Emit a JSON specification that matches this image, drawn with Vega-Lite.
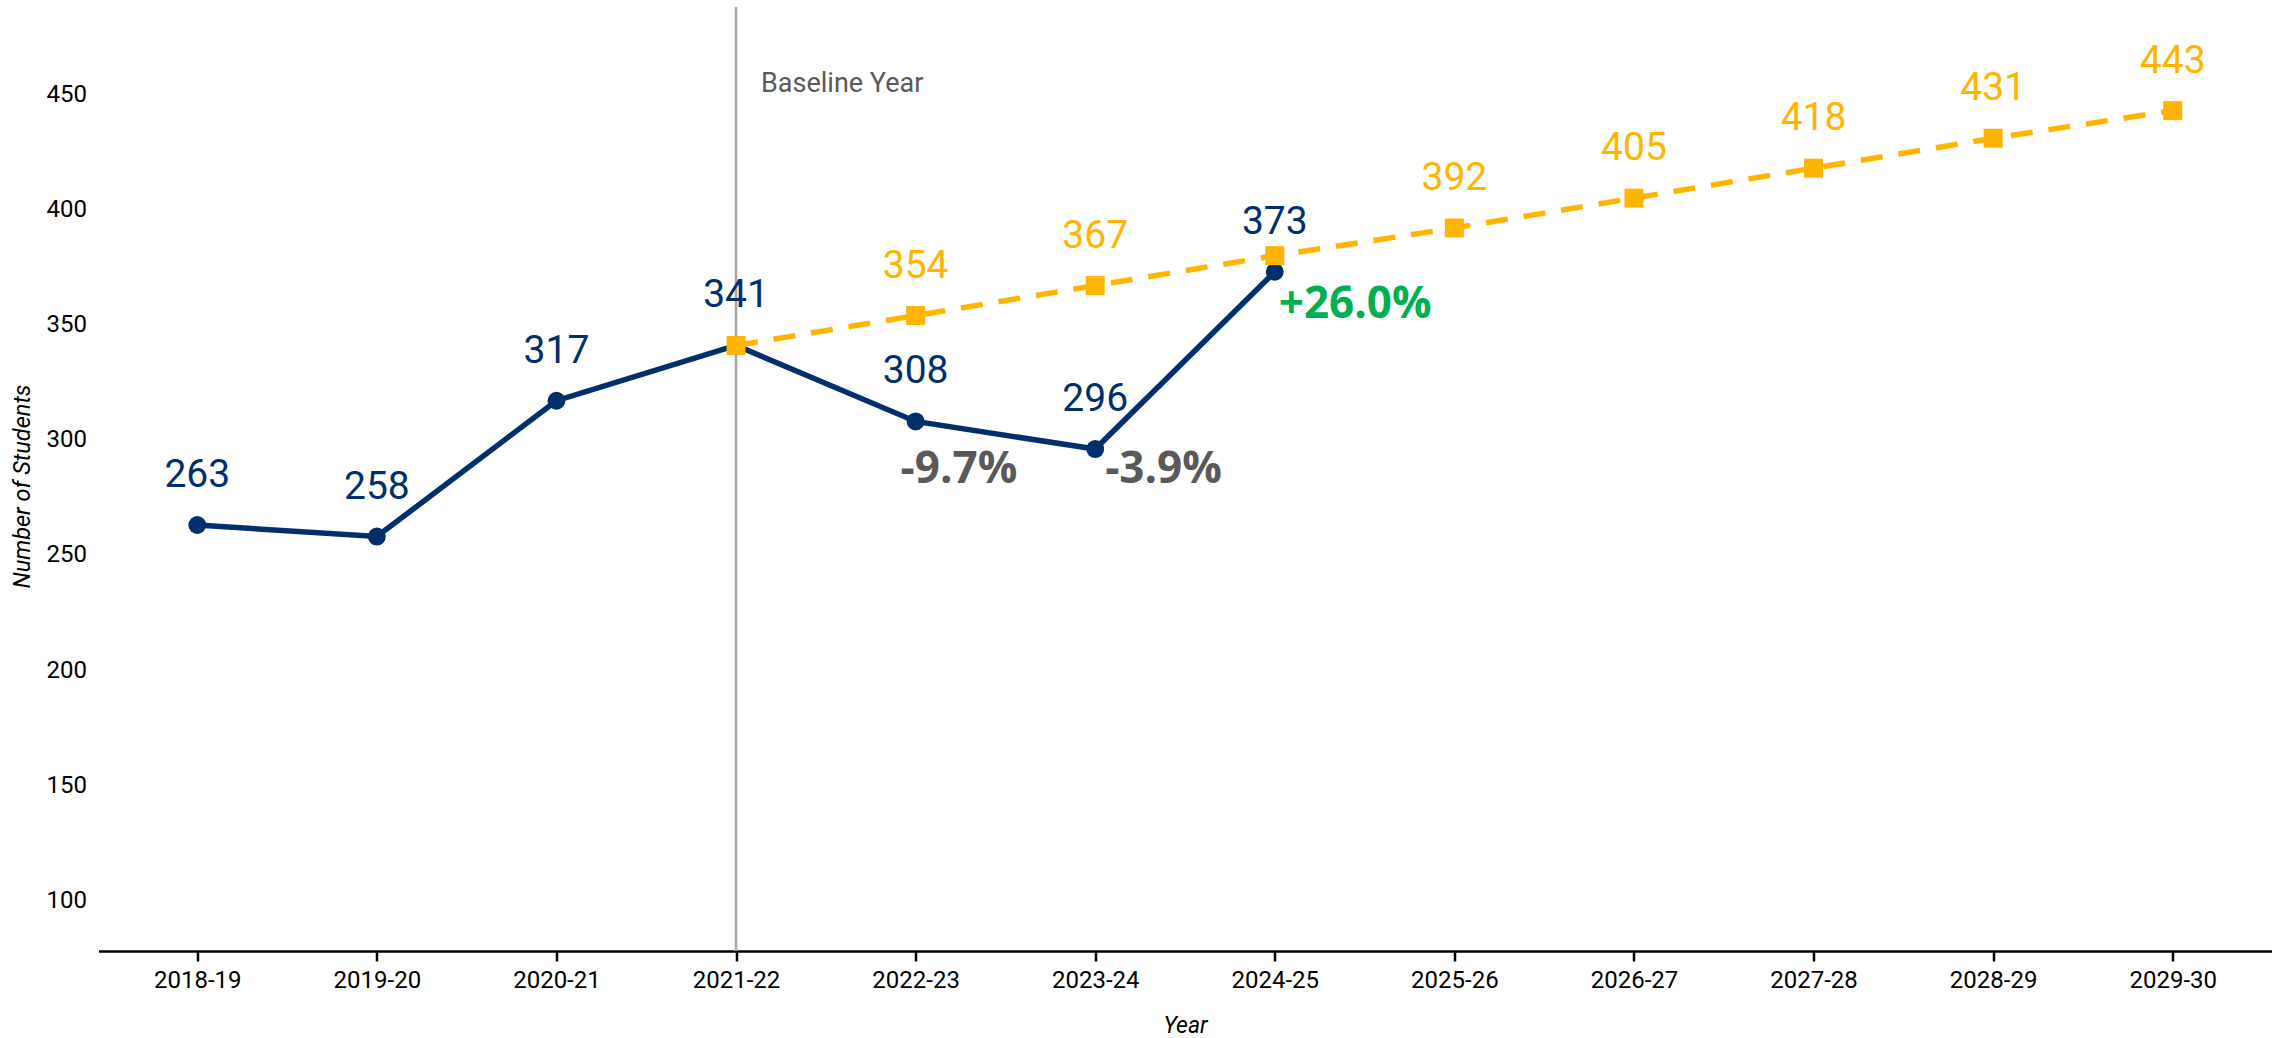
{
  "$schema": "https://vega.github.io/schema/vega-lite/v6.json",
  "width": 2173,
  "height": 944,
  "autosize": {"type": "none"},
  "padding": {"left": 98.5, "top": 7, "right": 0, "bottom": 87},
  "background": "white",
  "config": {"view": {"stroke": null}, "font": "Roboto"},
  "datasets": {
    "actual": [
      {"Year": "2018-19", "value": 263},
      {"Year": "2019-20", "value": 258},
      {"Year": "2020-21", "value": 317},
      {"Year": "2021-22", "value": 341},
      {"Year": "2022-23", "value": 308},
      {"Year": "2023-24", "value": 296},
      {"Year": "2024-25", "value": 373}
    ],
    "projected": [
      {"Year": "2021-22", "value": 341},
      {"Year": "2022-23", "value": 354},
      {"Year": "2023-24", "value": 367},
      {"Year": "2024-25", "value": 380},
      {"Year": "2025-26", "value": 392},
      {"Year": "2026-27", "value": 405},
      {"Year": "2027-28", "value": 418},
      {"Year": "2028-29", "value": 431},
      {"Year": "2029-30", "value": 443}
    ],
    "changes": [
      {"Year": "2022-23", "value": 308, "change": "-9.7%"},
      {"Year": "2023-24", "value": 296, "change": "-3.9%"},
      {"Year": "2024-25", "value": 373, "change": "+26.0%"}
    ],
    "baseline": [
      {"Year": "2021-22", "note": "Baseline Year"}
    ]
  },
  "encoding": {
    "x": {
      "field": "Year",
      "type": "ordinal",
      "title": "Year",
      "scale": {
        "type": "point",
        "padding": 0.55,
        "domain": ["2018-19", "2019-20", "2020-21", "2021-22", "2022-23", "2023-24", "2024-25", "2025-26", "2026-27", "2027-28", "2028-29", "2029-30"]
      },
      "axis": {
        "labelAngle": 0,
        "labelFontSize": 24,
        "labelColor": "#000000",
        "labelPadding": 7,
        "domainColor": "#000000",
        "domainWidth": 2.5,
        "tickColor": "#000000",
        "tickWidth": 2.5,
        "tickSize": 10,
        "grid": false,
        "titleFontSize": 23,
        "titleFontStyle": "italic",
        "titleFontWeight": "normal",
        "titleColor": "#000000",
        "titleY": 81,
        "titleBaseline": "alphabetic"
      }
    }
  },
  "layer": [
    {
      "data": {"name": "baseline"},
      "mark": {"type": "rule", "color": "#A6A6A6", "strokeWidth": 2.5},
      "encoding": {}
    },
    {
      "data": {"name": "baseline"},
      "mark": {"type": "text", "align": "left", "baseline": "alphabetic", "dx": 25, "fontSize": 27, "color": "#595959"},
      "encoding": {
        "y": {"datum": 451, "type": "quantitative"},
        "text": {"field": "note"}
      }
    },
    {
      "data": {"name": "actual"},
      "mark": {"type": "line", "color": "#012F6B", "strokeWidth": 5.5},
      "encoding": {
        "y": {
          "field": "value",
          "type": "quantitative",
          "title": "Number of Students",
          "scale": {"domain": [78, 488], "nice": false, "zero": false},
          "axis": {
            "values": [100, 150, 200, 250, 300, 350, 400, 450],
            "domain": false,
            "ticks": false,
            "grid": false,
            "labelFontSize": 24,
            "labelColor": "#000000",
            "labelPadding": 12,
            "titleFontSize": 23.5,
            "titleFontStyle": "italic",
            "titleFontWeight": "normal",
            "titleColor": "#000000",
            "titleAngle": -90,
            "titleX": -76.5,
            "titleY": 479,
            "titleAlign": "center",
            "titleBaseline": "middle"
          }
        }
      }
    },
    {
      "data": {"name": "actual"},
      "mark": {"type": "point", "shape": "circle", "filled": true, "opacity": 1, "size": 320, "color": "#012F6B"},
      "encoding": {"y": {"field": "value", "type": "quantitative"}}
    },
    {
      "data": {"name": "actual"},
      "mark": {"type": "text", "dy": -38, "baseline": "alphabetic", "fontSize": 39, "color": "#012F6B"},
      "encoding": {
        "y": {"field": "value", "type": "quantitative"},
        "text": {"field": "value"}
      }
    },
    {
      "data": {"name": "projected"},
      "mark": {"type": "line", "color": "#FFB500", "strokeWidth": 5.5, "strokeDash": [22, 16]},
      "encoding": {"y": {"field": "value", "type": "quantitative"}}
    },
    {
      "data": {"name": "projected"},
      "mark": {"type": "point", "shape": "square", "filled": true, "opacity": 1, "size": 360, "color": "#FFB500"},
      "encoding": {"y": {"field": "value", "type": "quantitative"}}
    },
    {
      "data": {"name": "projected"},
      "transform": [{"filter": "datum.Year !== '2021-22' && datum.Year !== '2024-25'"}],
      "mark": {"type": "text", "dy": -38, "baseline": "alphabetic", "fontSize": 39, "color": "#FFB500"},
      "encoding": {
        "y": {"field": "value", "type": "quantitative"},
        "text": {"field": "value"}
      }
    },
    {
      "data": {"name": "changes"},
      "transform": [{"filter": "datum.Year === '2022-23'"}],
      "mark": {"type": "text", "font": "Open Sans", "align": "left", "baseline": "alphabetic", "dx": -15, "dy": 62, "fontSize": 44, "fontWeight": "bold", "color": "#595959"},
      "encoding": {
        "y": {"field": "value", "type": "quantitative"},
        "text": {"field": "change"}
      }
    },
    {
      "data": {"name": "changes"},
      "transform": [{"filter": "datum.Year === '2023-24'"}],
      "mark": {"type": "text", "font": "Open Sans", "align": "left", "baseline": "alphabetic", "dx": 10, "dy": 34, "fontSize": 44, "fontWeight": "bold", "color": "#595959"},
      "encoding": {
        "y": {"field": "value", "type": "quantitative"},
        "text": {"field": "change"}
      }
    },
    {
      "data": {"name": "changes"},
      "transform": [{"filter": "datum.Year === '2024-25'"}],
      "mark": {"type": "text", "font": "Open Sans", "align": "left", "baseline": "alphabetic", "dx": 4, "dy": 46, "fontSize": 44, "fontWeight": "bold", "color": "#00B050"},
      "encoding": {
        "y": {"field": "value", "type": "quantitative"},
        "text": {"field": "change"}
      }
    }
  ]
}
